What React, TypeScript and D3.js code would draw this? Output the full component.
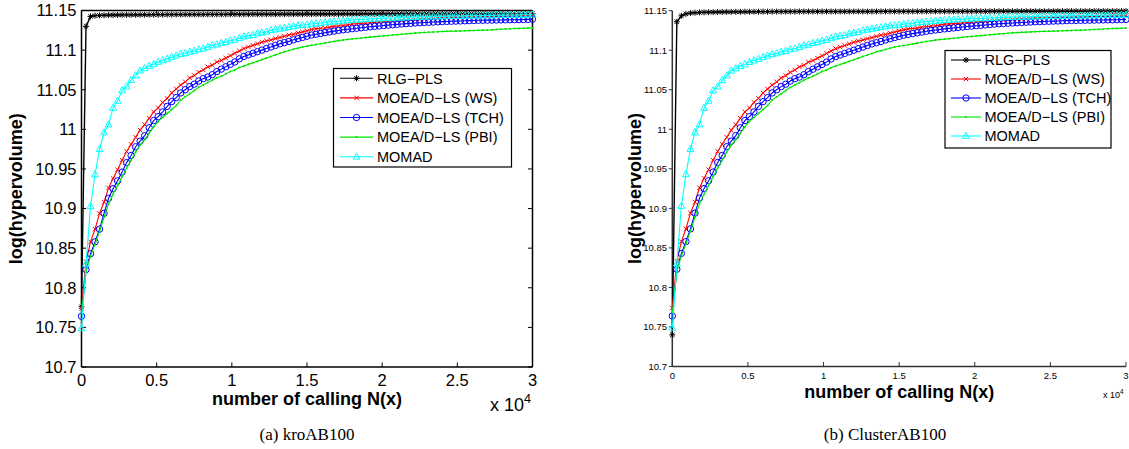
import React from "react";
import * as d3 from "d3";

// number of calls N(x), sampled every 300 evaluations
const EVALS = [
  0, 300, 600, 900, 1200, 1500, 1800, 2100, 2400, 2700,
  3000, 3300, 3600, 3900, 4200, 4500, 4800, 5100, 5400, 5700,
  6000, 6300, 6600, 6900, 7200, 7500, 7800, 8100, 8400, 8700,
  9000, 9300, 9600, 9900, 10200, 10500, 10800, 11100, 11400, 11700,
  12000, 12300, 12600, 12900, 13200, 13500, 13800, 14100, 14400, 14700,
  15000, 15300, 15600, 15900, 16200, 16500, 16800, 17100, 17400, 17700,
  18000, 18300, 18600, 18900, 19200, 19500, 19800, 20100, 20400, 20700,
  21000, 21300, 21600, 21900, 22200, 22500, 22800, 23100, 23400, 23700,
  24000, 24300, 24600, 24900, 25200, 25500, 25800, 26100, 26400, 26700,
  27000, 27300, 27600, 27900, 28200, 28500, 28800, 29100, 29400, 29700,
  30000,
];

const X_TICKS = [0, 0.5, 1, 1.5, 2, 2.5, 3];
const X_TICK_LABELS = ["0", "0.5", "1", "1.5", "2", "2.5", "3"];
const Y_TICKS = [10.7, 10.75, 10.8, 10.85, 10.9, 10.95, 11, 11.05, 11.1, 11.15];
const Y_TICK_LABELS = ["10.7", "10.75", "10.8", "10.85", "10.9", "10.95", "11", "11.05", "11.1", "11.15"];

const SERIES_NAMES = ["RLG\u2212PLS", "MOEA/D\u2212LS (WS)", "MOEA/D\u2212LS (TCH)", "MOEA/D\u2212LS (PBI)", "MOMAD"];

// ---- (a) kroAB100 ----
const kroRLG = [
  10.776, 11.130, 11.1425, 11.1435, 11.1438, 11.144, 11.1442, 11.1443, 11.1444, 11.1445,
  11.1445, 11.1446, 11.1446, 11.1447, 11.1447, 11.1447, 11.1448, 11.1448, 11.1448, 11.1449,
  11.1449, 11.1449, 11.1449, 11.145, 11.145, 11.145, 11.145, 11.145, 11.1451, 11.1451,
  11.1451, 11.1451, 11.1451, 11.1452, 11.1452, 11.1452, 11.1452, 11.1452, 11.1453, 11.1453,
  11.1453, 11.1453, 11.1453, 11.1453, 11.1454, 11.1454, 11.1454, 11.1454, 11.1454, 11.1454,
  11.1455, 11.1455, 11.1455, 11.1455, 11.1455, 11.1456, 11.1456, 11.1456, 11.1456, 11.1456,
  11.1456, 11.1456, 11.1457, 11.1457, 11.1457, 11.1457, 11.1457, 11.1457, 11.1457, 11.1458,
  11.1458, 11.1458, 11.1458, 11.1458, 11.1458, 11.1458, 11.1458, 11.1458, 11.1458, 11.1458,
  11.1458, 11.1458, 11.1459, 11.1459, 11.1459, 11.1459, 11.1459, 11.1459, 11.1459, 11.1459,
  11.146, 11.146, 11.146, 11.146, 11.146, 11.146, 11.146, 11.146, 11.146, 11.146,
  11.146,
];
const kroWS = [
  10.774, 10.833, 10.858, 10.874, 10.894, 10.908, 10.926, 10.938, 10.949, 10.961,
  10.972, 10.981, 10.990, 10.999, 11.006, 11.014, 11.022, 11.027, 11.034, 11.039,
  11.046, 11.051, 11.056, 11.060, 11.065, 11.068, 11.072, 11.075, 11.079, 11.081,
  11.085, 11.087, 11.090, 11.093, 11.096, 11.099, 11.102, 11.104, 11.106, 11.108,
  11.110, 11.1115, 11.113, 11.1145, 11.116, 11.1175, 11.119, 11.120, 11.1215, 11.123,
  11.1245, 11.126, 11.127, 11.1275, 11.128, 11.129, 11.130, 11.1305, 11.131, 11.132,
  11.133, 11.1333, 11.1337, 11.134, 11.1345, 11.135, 11.1355, 11.136, 11.1364, 11.1368,
  11.1372, 11.1376, 11.138, 11.1383, 11.1386, 11.139, 11.1393, 11.1396, 11.1399, 11.1402,
  11.1404, 11.1406, 11.1408, 11.141, 11.1412, 11.1414, 11.1416, 11.1417, 11.1419, 11.142,
  11.1421, 11.1423, 11.1425, 11.1427, 11.1429, 11.1431, 11.1433, 11.1435, 11.1437, 11.1439,
  11.144,
];
const kroTCH = [
  10.764, 10.823, 10.843, 10.858, 10.874, 10.894, 10.913, 10.925, 10.935, 10.946,
  10.958, 10.967, 10.978, 10.985, 10.992, 11.002, 11.011, 11.016, 11.022, 11.029,
  11.035, 11.040, 11.046, 11.050, 11.054, 11.057, 11.061, 11.064, 11.066, 11.069,
  11.073, 11.076, 11.079, 11.082, 11.085, 11.089, 11.092, 11.094, 11.096, 11.098,
  11.100, 11.102, 11.104, 11.106, 11.108, 11.1095, 11.111, 11.113, 11.1145, 11.116,
  11.1175, 11.119, 11.120, 11.121, 11.122, 11.123, 11.124, 11.1248, 11.1256, 11.1263,
  11.127, 11.1276, 11.1282, 11.1288, 11.1294, 11.130, 11.1305, 11.131, 11.1315, 11.132,
  11.1325, 11.133, 11.1334, 11.1338, 11.1342, 11.1345, 11.1348, 11.1351, 11.1354, 11.1357,
  11.136, 11.1362, 11.1364, 11.1366, 11.1368, 11.137, 11.1372, 11.1374, 11.1376, 11.1377,
  11.1378, 11.1379, 11.138, 11.1381, 11.1382, 11.1383, 11.1384, 11.1385, 11.1386, 11.1388,
  11.139,
];
const kroPBI = [
  10.768, 10.820, 10.840, 10.855, 10.871, 10.889, 10.906, 10.918, 10.929, 10.940,
  10.951, 10.961, 10.971, 10.980, 10.987, 10.995, 11.003, 11.010, 11.015, 11.020,
  11.025, 11.030, 11.037, 11.041, 11.045, 11.049, 11.053, 11.056, 11.059, 11.062,
  11.065, 11.067, 11.070, 11.073, 11.075, 11.078, 11.080, 11.082, 11.084, 11.086,
  11.088, 11.090, 11.092, 11.094, 11.096, 11.098, 11.0995, 11.101, 11.1025, 11.104,
  11.105, 11.106, 11.107, 11.108, 11.109, 11.110, 11.111, 11.112, 11.1128, 11.1135,
  11.114, 11.1146, 11.1152, 11.1158, 11.1164, 11.117, 11.1175, 11.118, 11.1185, 11.119,
  11.1195, 11.120, 11.1205, 11.121, 11.1215, 11.122, 11.1223, 11.1226, 11.1229, 11.1232,
  11.1235, 11.1237, 11.1239, 11.124, 11.1242, 11.1244, 11.1246, 11.1248, 11.125, 11.1252,
  11.1254, 11.1256, 11.126, 11.1263, 11.1266, 11.1269, 11.1272, 11.1274, 11.1276, 11.1278,
  11.128,
];
const kroMOMAD = [
  10.749, 10.830, 10.903, 10.943, 10.975, 10.996, 11.006, 11.027, 11.036, 11.049,
  11.054, 11.062, 11.068, 11.074, 11.077, 11.080, 11.082, 11.085, 11.087, 11.089,
  11.091, 11.093, 11.095, 11.096, 11.098, 11.099, 11.101, 11.102, 11.104, 11.106,
  11.107, 11.109, 11.110, 11.112, 11.113, 11.115, 11.117, 11.118, 11.119, 11.121,
  11.122, 11.123, 11.125, 11.126, 11.127, 11.128, 11.129, 11.130, 11.131, 11.1315,
  11.132, 11.133, 11.1335, 11.134, 11.135, 11.1355, 11.136, 11.1365, 11.137, 11.1375,
  11.138, 11.1383, 11.1386, 11.139, 11.1393, 11.1396, 11.1399, 11.140, 11.1403, 11.1405,
  11.1408, 11.141, 11.1413, 11.1415, 11.1418, 11.142, 11.1421, 11.1423, 11.1424, 11.1425,
  11.1426, 11.1427, 11.1429, 11.143, 11.1431, 11.1432, 11.1433, 11.1434, 11.1435, 11.1436,
  11.1437, 11.1438, 11.144, 11.1441, 11.1442, 11.1443, 11.1444, 11.1445, 11.1446, 11.1447,
  11.1448,
];

// ---- (b) ClusterAB100 ----
const clusterRLG = [
  10.740, 11.136, 11.1435, 11.146, 11.147, 11.1475, 11.1478, 11.148, 11.1481, 11.1482,
  11.1483, 11.1484, 11.1485, 11.1485, 11.1486, 11.1486, 11.1487, 11.1487, 11.1487, 11.1488,
  11.1488, 11.1488, 11.1488, 11.1489, 11.1489, 11.1489, 11.1489, 11.1489, 11.149, 11.149,
  11.149, 11.149, 11.149, 11.149, 11.149, 11.149, 11.149, 11.149, 11.149, 11.149,
  11.149, 11.149, 11.149, 11.149, 11.149, 11.1491, 11.1491, 11.1491, 11.1491, 11.1491,
  11.1491, 11.1491, 11.1491, 11.1491, 11.1491, 11.1492, 11.1492, 11.1492, 11.1492, 11.1492,
  11.1492, 11.1492, 11.1492, 11.1492, 11.1492, 11.1492, 11.1492, 11.1492, 11.1492, 11.1492,
  11.1493, 11.1493, 11.1493, 11.1493, 11.1493, 11.1493, 11.1493, 11.1493, 11.1493, 11.1493,
  11.1493, 11.1493, 11.1493, 11.1493, 11.1493, 11.1494, 11.1494, 11.1494, 11.1494, 11.1494,
  11.1494, 11.1494, 11.1494, 11.1494, 11.1494, 11.1494, 11.1494, 11.1494, 11.1494, 11.1494,
  11.1495,
];
// the other four curves of (b) read the same as in (a)
const clusterWS = kroWS;
const clusterTCH = kroTCH;
const clusterPBI = kroPBI;
const clusterMOMAD = kroMOMAD;

const COLORS = ["#000000", "#ff0000", "#0000ff", "#00e600", "#00ffff"];
const MARKERS = ["star", "x", "circle", "dot", "triangle"];

function Marker({ type, x, y, color }: { type: string; x: number; y: number; color: string }) {
  if (type === "star")
    return (
      <path
        d={`M${x - 3},${y}H${x + 3}M${x},${y - 3}V${y + 3}M${x - 2.2},${y - 2.2}L${x + 2.2},${y + 2.2}M${x - 2.2},${y + 2.2}L${x + 2.2},${y - 2.2}`}
        stroke={color}
        strokeWidth={1}
        fill="none"
      />
    );
  if (type === "x")
    return (
      <path
        d={`M${x - 2.2},${y - 2.2}L${x + 2.2},${y + 2.2}M${x - 2.2},${y + 2.2}L${x + 2.2},${y - 2.2}`}
        stroke={color}
        strokeWidth={1}
        fill="none"
      />
    );
  if (type === "circle") return <circle cx={x} cy={y} r={3.2} stroke={color} strokeWidth={1} fill="none" />;
  if (type === "dot") return <circle cx={x} cy={y} r={1} fill={color} />;
  return (
    <path
      d={`M${x},${y - 3.8}L${x + 3.4},${y + 2.4}L${x - 3.4},${y + 2.4}Z`}
      stroke={color}
      strokeWidth={1}
      fill="none"
    />
  );
}

type Cfg = {
  x0: number; x1: number; yTop: number; yBot: number;
  box: boolean; axisColor: string; axisWidth: number;
  tickFont: number; yTickRight: number; xTickBaseline: number; yTickOutward: boolean;
  labelFont: number; xLabelBaseline: number; yLabelX: number;
  expX: number; expY: number; expFont: number;
  legend: { x: number; y: number; w: number; h: number; l0: number; l1: number; tx: number; row0: number; dy: number; font: number };
  caption: string; capX: number; capY: number;
};

function Panel({ cfg, series }: { cfg: Cfg; series: number[][] }) {
  const x = d3.scaleLinear().domain([0, 3]).range([cfg.x0, cfg.x1]);
  const y = d3.scaleLinear().domain([10.7, 11.15]).range([cfg.yBot, cfg.yTop]);
  const line = d3
    .line<number>()
    .x((_, i) => x(EVALS[i] / 1e4))
    .y((d) => y(d));
  const tl = 4.5;
  const sans = "'Liberation Sans', Arial, sans-serif";
  const lg = cfg.legend;
  const midX = (cfg.x0 + cfg.x1) / 2;
  const midY = (cfg.yTop + cfg.yBot) / 2;
  return (
    <g>
      {/* axes */}
      <g stroke={cfg.axisColor} strokeWidth={cfg.axisWidth} fill="none">
        <line x1={cfg.x0} x2={cfg.x1} y1={cfg.yBot} y2={cfg.yBot} />
        <line x1={cfg.x0} x2={cfg.x0} y1={cfg.yTop} y2={cfg.yBot} />
        {cfg.box && <line x1={cfg.x0} x2={cfg.x1} y1={cfg.yTop} y2={cfg.yTop} />}
        {cfg.box && <line x1={cfg.x1} x2={cfg.x1} y1={cfg.yTop} y2={cfg.yBot} />}
      </g>
      <g stroke={cfg.axisColor} strokeWidth={1}>
        {X_TICKS.map((t) => (
          <g key={"xt" + t}>
            <line x1={x(t)} x2={x(t)} y1={cfg.yBot} y2={cfg.yBot - tl} />
            {cfg.box && <line x1={x(t)} x2={x(t)} y1={cfg.yTop} y2={cfg.yTop + tl} />}
          </g>
        ))}
        {Y_TICKS.map((t) => (
          <g key={"yt" + t}>
            {cfg.yTickOutward ? (
              <line x1={cfg.x0} x2={cfg.x0 - 3.5} y1={y(t)} y2={y(t)} />
            ) : (
              <line x1={cfg.x0} x2={cfg.x0 + tl} y1={y(t)} y2={y(t)} />
            )}
            {cfg.box && <line x1={cfg.x1} x2={cfg.x1 - tl} y1={y(t)} y2={y(t)} />}
          </g>
        ))}
      </g>
      <g fontFamily={sans} fontSize={cfg.tickFont} fill="#000">
        {X_TICKS.map((t, i) => (
          <text key={"xl" + t} x={x(t)} y={cfg.xTickBaseline} textAnchor="middle">
            {X_TICK_LABELS[i]}
          </text>
        ))}
        {Y_TICKS.map((t, i) => (
          <text key={"yl" + t} x={cfg.yTickRight} y={y(t)} dy="0.36em" textAnchor="end">
            {Y_TICK_LABELS[i]}
          </text>
        ))}
      </g>
      {/* data */}
      {series.map((vals, si) => (
        <g key={"s" + si}>
          <path d={line(vals) || ""} fill="none" stroke={COLORS[si]} strokeWidth={si === 0 ? 1.4 : 1.1} />
          {vals.map((v, i) => (
            <Marker key={i} type={MARKERS[si]} x={x(EVALS[i] / 1e4)} y={y(v)} color={COLORS[si]} />
          ))}
        </g>
      ))}
      {/* labels */}
      <text x={midX} y={cfg.xLabelBaseline} textAnchor="middle" fontFamily={sans} fontWeight="bold" fontSize={cfg.labelFont}>
        number of calling N(x)
      </text>
      <text
        transform={`translate(${cfg.yLabelX},${midY}) rotate(-90)`}
        textAnchor="middle"
        fontFamily={sans}
        fontWeight="bold"
        fontSize={cfg.labelFont}
      >
        log(hypervolume)
      </text>
      <text x={cfg.expX} y={cfg.expY} fontFamily={sans} fontSize={cfg.expFont}>
        x 10
        <tspan dy={-cfg.expFont * 0.45} fontSize={cfg.expFont * 0.7}>
          4
        </tspan>
      </text>
      {/* legend */}
      <g>
        <rect x={lg.x} y={lg.y} width={lg.w} height={lg.h} fill="#fff" stroke="#000" strokeWidth={1.2} />
        {SERIES_NAMES.map((name, i) => {
          const ry = lg.row0 + i * lg.dy;
          return (
            <g key={name}>
              <line x1={lg.l0} x2={lg.l1} y1={ry} y2={ry} stroke={COLORS[i]} strokeWidth={1.1} />
              <Marker type={MARKERS[i]} x={(lg.l0 + lg.l1) / 2} y={ry} color={COLORS[i]} />
              <text x={lg.tx} y={ry} dy="0.36em" fontFamily={sans} fontSize={lg.font} fill="#000">
                {name}
              </text>
            </g>
          );
        })}
      </g>
      <text x={cfg.capX} y={cfg.capY} textAnchor="middle" fontFamily="'Liberation Serif', 'Times New Roman', serif" fontSize={17}>
        {cfg.caption}
      </text>
    </g>
  );
}

const LEFT: Cfg = {
  x0: 81.5, x1: 532.5, yTop: 10.5, yBot: 367,
  box: true, axisColor: "#000", axisWidth: 1.5,
  tickFont: 16.5, yTickRight: 76.5, xTickBaseline: 385.5, yTickOutward: false,
  labelFont: 18, xLabelBaseline: 405, yLabelX: 22,
  expX: 490, expY: 411, expFont: 18,
  legend: { x: 333.5, y: 68.5, w: 178, h: 98.5, l0: 340, l1: 373, tx: 377, row0: 78.3, dy: 19.6, font: 14.5 },
  caption: "(a) kroAB100", capX: 307, capY: 440,
};

const RIGHT: Cfg = {
  x0: 672.3, x1: 1126, yTop: 10.7, yBot: 366.5,
  box: false, axisColor: "#333", axisWidth: 1.5,
  tickFont: 9.5, yTickRight: 667, xTickBaseline: 379, yTickOutward: true,
  labelFont: 18, xLabelBaseline: 398, yLabelX: 641,
  expX: 1103, expY: 398, expFont: 9,
  legend: { x: 945, y: 50.5, w: 166, h: 97.5, l0: 951, l1: 981, tx: 984.5, row0: 60, dy: 19, font: 14.5 },
  caption: "(b) ClusterAB100", capX: 885, capY: 440,
};

export default function App() {
  return (
    <svg
      width={1129}
      height={449}
      viewBox="0 0 1129 449"
      style={{ position: "absolute", left: 0, top: 0, display: "block", background: "#fff" }}
    >
      <rect x={0} y={0} width={1129} height={449} fill="#fff" />
      <Panel cfg={LEFT} series={[kroRLG, kroWS, kroTCH, kroPBI, kroMOMAD]} />
      <Panel cfg={RIGHT} series={[clusterRLG, clusterWS, clusterTCH, clusterPBI, clusterMOMAD]} />
    </svg>
  );
}
